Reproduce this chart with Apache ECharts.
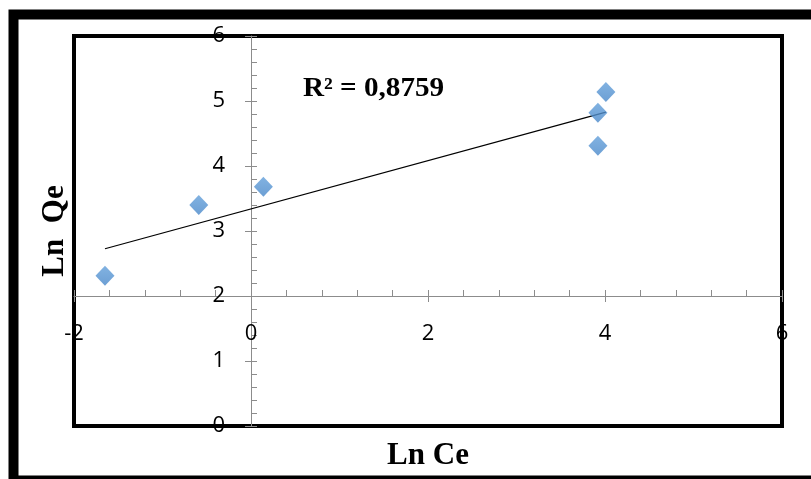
<!DOCTYPE html>
<html>
<head>
<meta charset="utf-8">
<script src="https://cdn.jsdelivr.net/npm/echarts@6/dist/echarts.min.js"></script>
<style>html,body{margin:0;padding:0;background:#fff}#c{width:811px;height:479px}</style>
</head>
<body>
<div id="c"></div>
<script>
// Data
var lnCe = [-1.65, -0.59, 0.14, 3.92, 3.92, 4.01];
var lnQe = [2.31, 3.40, 3.68, 4.31, 4.82, 5.14];
var xTicks = [-2, 0, 2, 4, 6];
var yTicks = [0, 1, 2, 3, 4, 5, 6];
var xCross = 2;   // the Ln Ce axis crosses the Ln Qe axis at Ln Qe = 2
var yCross = 0;   // the Ln Qe axis crosses the Ln Ce axis at Ln Ce = 0
var xTitle = 'Ln Ce';
var yTitle = 'Ln  Qe';
var r2Text = 'R² = 0,8759';

// least-squares trend line from the data
var n = lnCe.length, sx = 0, sy = 0;
for (var i = 0; i < n; i++) { sx += lnCe[i]; sy += lnQe[i]; }
var mx = sx / n, my = sy / n, sxx = 0, sxy = 0;
for (var i = 0; i < n; i++) { sxx += (lnCe[i]-mx)*(lnCe[i]-mx); sxy += (lnCe[i]-mx)*(lnQe[i]-my); }
var slope = sxy / sxx, icpt = my - slope * mx;
var xMin = Math.min.apply(null, lnCe), xMax = Math.max.apply(null, lnCe);
var trend = [[xMin, icpt + slope * xMin], [xMax, icpt + slope * xMax]];
var pts = lnCe.map(function (x, k) { return [x, lnQe[k]]; });

var W = 811, H = 479;
var G = {left: 74, right: 29, top: 36, bottom: 53};
var plotW = W - G.left - G.right, plotH = H - G.top - G.bottom;
var x0 = xTicks[0], x1 = xTicks[xTicks.length-1], y0 = yTicks[0], y1 = yTicks[yTicks.length-1];
// axis offsets so the axes cross where the original chart's axes cross
var xOffset = -((xCross - y0) / (y1 - y0)) * plotH;
var yOffset = -((yCross - x0) / (x1 - x0)) * plotW;

var axisGray = '#8c8c8c';
var labelFont = {fontFamily: 'Open Sans', fontSize: 22, color: '#000'};
var nameFont = {fontFamily: 'Liberation Serif', fontWeight: 'bold', fontSize: 31, color: '#000'};

var chart = echarts.init(document.getElementById('c'));
chart.setOption({
  animation: false,
  backgroundColor: '#fff',
  grid: {left: G.left, right: G.right, top: G.top, bottom: G.bottom, show: true, borderColor: '#000', borderWidth: 4, backgroundColor: 'transparent'},
  xAxis: [
    {type: 'value', min: x0, max: x1, interval: 2, position: 'bottom', offset: xOffset,
     axisLine: {show: true, onZero: false, lineStyle: {color: axisGray, width: 1}},
     axisTick: {show: true, inside: true, length: 6, lineStyle: {color: axisGray}},
     minorTick: {show: true, splitNumber: 5, length: 6, lineStyle: {color: axisGray}},
     splitLine: {show: false},
     axisLabel: Object.assign({margin: 27}, labelFont)},
    {type: 'value', min: x0, max: x1, interval: 2, position: 'bottom', offset: xOffset,
     axisLine: {show: false, onZero: false},
     axisTick: {show: true, inside: false, length: 6, lineStyle: {color: axisGray}},
     splitLine: {show: false}, axisLabel: {show: false}},
    {type: 'value', min: x0, max: x1, position: 'bottom', offset: 0,
     axisLine: {show: false, onZero: false}, axisTick: {show: false}, splitLine: {show: false}, axisLabel: {show: false},
     name: xTitle, nameLocation: 'middle', nameGap: 14, nameTextStyle: nameFont}
  ],
  yAxis: [
    {type: 'value', min: y0, max: y1, interval: 1, position: 'left', offset: yOffset,
     axisLine: {show: true, onZero: false, lineStyle: {color: axisGray, width: 1}},
     axisTick: {show: true, inside: true, length: 6, lineStyle: {color: axisGray}},
     minorTick: {show: true, splitNumber: 5, length: 6, lineStyle: {color: axisGray}},
     splitLine: {show: false},
     axisLabel: Object.assign({margin: 26}, labelFont)},
    {type: 'value', min: y0, max: y1, interval: 1, position: 'left', offset: yOffset,
     axisLine: {show: false, onZero: false},
     axisTick: {show: true, inside: false, length: 6, lineStyle: {color: axisGray}},
     splitLine: {show: false}, axisLabel: {show: false}},
    {type: 'value', min: y0, max: y1, position: 'left', offset: 0,
     axisLine: {show: false, onZero: false}, axisTick: {show: false}, splitLine: {show: false}, axisLabel: {show: false},
     name: yTitle, nameLocation: 'middle', nameGap: 4, nameRotate: 90, nameTextStyle: nameFont}
  ],
  series: [
    {type: 'line', data: trend, xAxisIndex: 0, yAxisIndex: 0, showSymbol: false, symbol: 'none',
     lineStyle: {color: '#000', width: 1.2}, z: 3},
    {type: 'scatter', data: pts, xAxisIndex: 0, yAxisIndex: 0, symbol: 'diamond', symbolSize: [19, 20],
     itemStyle: {color: new echarts.graphic.LinearGradient(0, 0, 0, 1, [{offset: 0, color: '#629fda'}, {offset: 1, color: '#4887c9'}])}, z: 4}
  ],
  graphic: [
    {type: 'rect', shape: {x: 13.5, y: 14.5, width: 830, height: 466}, style: {fill: 'none', stroke: '#000', lineWidth: 10}, z: 100},
    {type: 'text', left: 303, top: 76, scaleX: 1.08, originX: 0, style: {text: r2Text, fontFamily: 'Liberation Serif', fontWeight: 'bold', fontSize: 27, fill: '#000'}, z: 100}
  ]
});
</script>
</body>
</html>
